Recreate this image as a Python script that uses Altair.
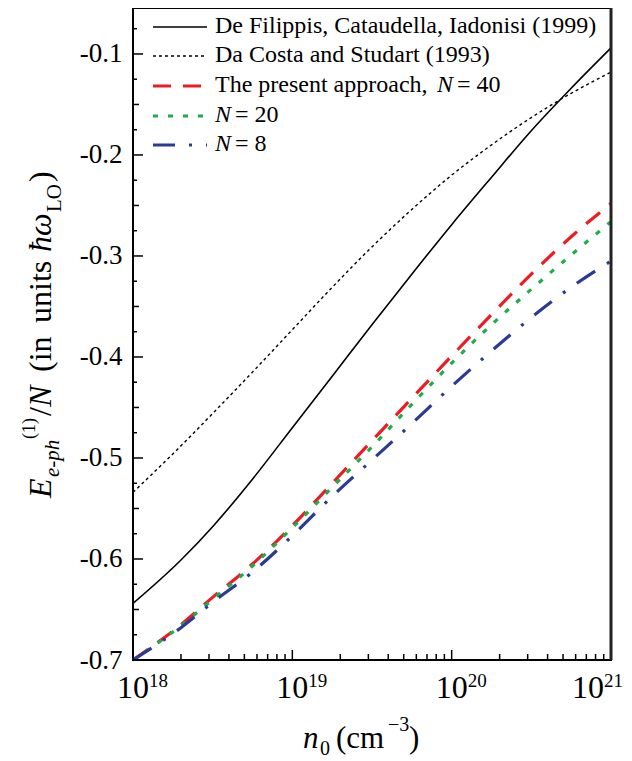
import altair as alt
import pandas as pd

# ---------------- data ----------------
n0 = [1e18, 2e18, 3.16e18, 5.62e18, 1e19, 1.78e19, 3.16e19, 5.62e19,
      1e20, 1.78e20, 3.16e20, 5.62e20, 1e21]
de_filippis = [-0.644, -0.601, -0.568, -0.521, -0.470, -0.419, -0.368, -0.318,
               -0.269, -0.222, -0.176, -0.134, -0.094]
da_costa = [-0.534, -0.488, -0.456, -0.415, -0.373, -0.331, -0.291, -0.254,
            -0.220, -0.190, -0.163, -0.139, -0.118]
present_n40 = [-0.700, -0.665, -0.638, -0.605, -0.567, -0.525, -0.483, -0.441,
               -0.399, -0.358, -0.318, -0.281, -0.248]
present_n20 = [-0.700, -0.666, -0.640, -0.607, -0.569, -0.529, -0.489, -0.447,
               -0.406, -0.368, -0.333, -0.299, -0.266]
present_n8 = [-0.700, -0.668, -0.643, -0.613, -0.577, -0.538, -0.502, -0.466,
              -0.429, -0.394, -0.361, -0.331, -0.305]

y_major = [-0.7, -0.6, -0.5, -0.4, -0.3, -0.2, -0.1]
y_mid = [-0.65, -0.55, -0.45, -0.35, -0.25, -0.15]
y_minor = [-0.675, -0.625, -0.575, -0.525, -0.475, -0.425, -0.375, -0.325,
           -0.275, -0.225, -0.175, -0.125, -0.075]
x_major = [1e18, 1e19, 1e20, 1e21]
x_exponents = ["18", "19", "20", "21"]
x_minor = [k * 10.0 ** e for e in (18, 19, 20) for k in range(2, 10)]

legend_labels = ["De Filippis, Cataudella, Iadonisi (1999)",
                 "Da Costa and Studart (1993)",
                 "The present approach,"]

# ---------------- layout / style ----------------
W, H = 478, 652
FONT = '"Liberation Serif", "Times New Roman", Times, serif'
RED, GREEN, BLUE = "#ED1C24", "#1DAE4B", "#2B3A93"

xs = alt.Scale(type="log", domain=[1e18, 1e21], nice=False)
ys = alt.Scale(domain=[-0.7, -0.0545], nice=False, zero=False)

styles = [
    dict(color="black", strokeWidth=1.6),
    dict(color="black", strokeWidth=1.4, strokeDash=[3, 3]),
    dict(color=RED, strokeWidth=3.2, strokeDash=[18, 12]),
    dict(color=GREEN, strokeWidth=3.2, strokeDash=[5, 10]),
    dict(color=BLUE, strokeWidth=3.2, strokeDash=[22, 14, 3, 14]),
]
series = [de_filippis, da_costa, present_n40, present_n20, present_n8]

layers = []
for vals, st in zip(series, styles):
    df = pd.DataFrame({"n": n0, "E": vals})
    layers.append(
        alt.Chart(df).mark_line(interpolate="monotone", **st).encode(
            x=alt.X("n:Q", scale=xs,
                    axis=alt.Axis(labels=False, ticks=False, domain=False,
                                  grid=False, title=None)),
            y=alt.Y("E:Q", scale=ys,
                    axis=alt.Axis(values=y_major, ticks=False, domain=False,
                                  grid=False, title=None,
                                  labelExpr="'-' + format(-datum.value, '.1f')",
                                  labelFont=FONT, labelFontSize=27,
                                  labelColor="black", labelPadding=11)),
        )
    )

# inward ticks
def yticks(vals, length):
    return alt.Chart(pd.DataFrame({"v": vals})).mark_rule(
        color="black", strokeWidth=1.5).encode(
        y=alt.Y("v:Q", scale=ys), x=alt.value(0), x2=alt.value(length))

def xticks(vals, length):
    return alt.Chart(pd.DataFrame({"v": vals})).mark_rule(
        color="black", strokeWidth=1.5).encode(
        x=alt.X("v:Q", scale=xs), y=alt.value(H), y2=alt.value(H - length))

layers += [yticks(y_major, 10), yticks(y_mid, 6), yticks(y_minor, 4),
           xticks(x_major, 10), xticks(x_minor, 6)]

# right border (thicker)
layers.append(alt.Chart(pd.DataFrame({"a": [0]})).mark_rule(
    color="#222", strokeWidth=3).encode(
    x=alt.value(W), y=alt.value(0), y2=alt.value(H)))

# x tick labels 10^k (the last one nudged left so it stays inside the page)
def xlabels(vals, exps, shift):
    xl = pd.DataFrame({"v": vals, "b": ["10"] * len(vals), "e": exps})
    base = alt.Chart(xl).mark_text(
        font=FONT, fontSize=32, align="right", baseline="alphabetic",
        dx=shift, color="black").encode(
        x=alt.X("v:Q", scale=xs), y=alt.value(H + 38), text="b:N")
    sup = alt.Chart(xl).mark_text(
        font=FONT, fontSize=19, align="left", baseline="alphabetic",
        dx=shift, color="black").encode(
        x=alt.X("v:Q", scale=xs), y=alt.value(H + 27), text="e:N")
    return [base, sup]

layers += xlabels(x_major[:3], x_exponents[:3], 16)
layers += xlabels(x_major[3:], x_exponents[3:], -7)


def piece(txt, x, y, size, style="normal", angle=0):
    return alt.Chart(pd.DataFrame({"t": [txt]})).mark_text(
        font=FONT, fontSize=size, fontStyle=style, angle=angle,
        align="left", baseline="alphabetic", color="black").encode(
        x=alt.value(x), y=alt.value(y), text="t:N")

# y-axis title (rotated, built from pieces); y values are where each piece starts
BX = -82
layers += [
    piece("E", BX, 490, 32, "italic", 270),
    piece("e-ph", BX + 8, 469, 21, "italic", 270),
    piece("(1)", BX - 16, 431, 18, "normal", 270),
    piece("/", BX, 408, 32, "normal", 270),
    piece("N", BX, 399, 32, "italic", 270),
    piece("(in", BX, 364, 32, "normal", 270),
    piece("units", BX, 315, 32, "normal", 270),
    piece("\u0127\u03c9", BX, 244, 32, "italic", 270),
    piece("LO", BX + 10, 204, 21, "normal", 270),
    piece(")", BX, 174, 32, "normal", 270),
]

# x-axis title
TY = H + 88
layers += [
    piece("n", 170, TY, 31, "italic"),
    piece("0", 187, TY + 7, 20),
    piece("(cm", 203, TY, 31),
    piece("\u22123", 255, TY - 17, 20),
    piece(")", 276, TY, 31),
]

# legend
rows = [19, 48, 78, 108, 137]
for r, st in zip(rows, styles):
    layers.append(alt.Chart(pd.DataFrame({"a": [0]})).mark_rule(**st).encode(
        x=alt.value(20), x2=alt.value(74), y=alt.value(r)))
LX, LS = 82, 24
layers += [
    piece(legend_labels[0], LX, rows[0] + 6, LS),
    piece(legend_labels[1], LX, rows[1] + 6, LS),
    piece(legend_labels[2], LX, rows[2] + 6, LS),
    piece("N", LX + 222, rows[2] + 6, LS, "italic"),
    piece("= 40", LX + 242, rows[2] + 6, LS),
    piece("N", LX, rows[3] + 6, LS, "italic"),
    piece("= 20", LX + 20, rows[3] + 6, LS),
    piece("N", LX, rows[4] + 6, LS, "italic"),
    piece("= 8", LX + 20, rows[4] + 6, LS),
]

chart = alt.layer(*layers).properties(
    width=W, height=H,
    autosize=alt.AutoSizeParams(type="none"),
    padding={"left": 125, "top": 0, "right": 13, "bottom": 101},
    background="white",
).configure_view(stroke="black", strokeWidth=2)

chart.save("out.html", embed_options={"renderer": "svg", "actions": False})
